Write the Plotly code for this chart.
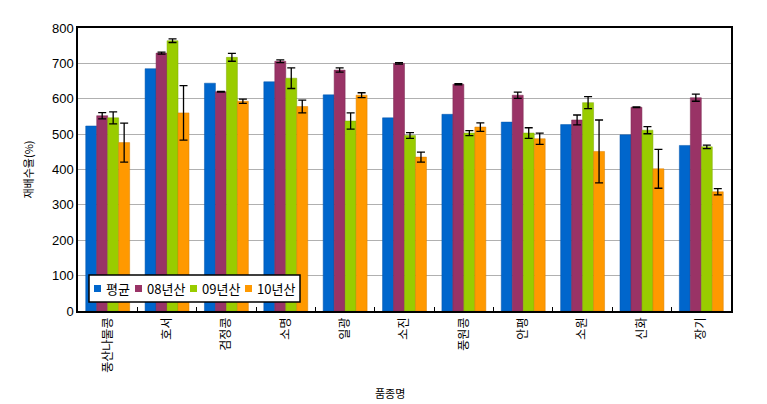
import plotly.graph_objects as go

categories = ["풍산나물콩", "호서", "검정콩", "소명", "일광", "소진", "풍원콩", "안평", "소원", "신화", "장기"]
series_names = ["평균", "08년산", "09년산", "10년산"]
avg = [523, 685, 644, 648, 611, 546, 556, 534, 527, 498, 468]
y08 = [552, 729, 620, 706, 681, 700, 641, 610, 540, 576, 603]
y09 = [546, 764, 717, 658, 537, 496, 503, 503, 589, 511, 464]
y10 = [476, 560, 593, 578, 610, 435, 520, 487, 451, 402, 337]
err08 = [9, 3, 1, 4, 6, 2, 2, 9, 14, 1, 10]
err09 = [17, 5, 11, 29, 23, 8, 7, 15, 17, 10, 5]
err10 = [55, 77, 6, 18, 7, 14, 12, 16, 89, 55, 9]

colors = ["#0066CC", "#993366", "#99CC00", "#FF9900"]
lines = ["#0055AA", "#7A2850", "#7FAA00", "#D97F00"]
values = [avg, y08, y09, y10]
errors = [None, err08, err09, err10]

# plot area in pixels
L, R, T, B = 78, 36, 28, 93
W, H = 767, 404
pw, ph = W - L - R, H - T - B

def px_x(x):
    return (x - L) / pw

def px_y(y):
    return (H - B - y) / ph

fig = go.Figure()
for name, vals, err, c, lc in zip(series_names, values, errors, colors, lines):
    kw = {}
    if err is not None:
        kw["error_y"] = dict(type="data", array=err, visible=True, color="#000000", thickness=1.3, width=4)
    fig.add_trace(go.Bar(x=categories, y=vals, name=name, showlegend=False,
                         marker=dict(color=c, line=dict(color=lc, width=0.5)), **kw))

# compact legend box (drawn as layout decoration)
shapes = [dict(type="rect", xref="paper", yref="paper",
               x0=px_x(89), x1=px_x(300), y0=px_y(302), y1=px_y(275),
               fillcolor="white", line=dict(color="#000000", width=1.5), layer="above")]
annotations = []
item_x = [94, 135, 190, 245]
for name, c, xs in zip(series_names, colors, item_x):
    shapes.append(dict(type="rect", xref="paper", yref="paper",
                       x0=px_x(xs), x1=px_x(xs + 7), y0=px_y(292), y1=px_y(285),
                       fillcolor=c, line=dict(color=c, width=0), layer="above"))
    annotations.append(dict(xref="paper", yref="paper", x=px_x(xs + 10), y=px_y(288.5),
                            text=name, showarrow=False, xanchor="left", yanchor="middle",
                            font=dict(size=13, family="Noto Sans CJK KR", color="#000000")))
annotations.append(dict(xref="paper", yref="paper", x=px_x(390), y=px_y(393), text="품종명",
                        showarrow=False, xanchor="center", yanchor="middle",
                        font=dict(size=11, family="Noto Sans CJK KR", color="#000000")))

fig.update_layout(
    width=W, height=H,
    margin=dict(l=L, r=R, t=T, b=B, autoexpand=False),
    barmode="group", bargap=0.26, bargroupgap=0,
    plot_bgcolor="white", paper_bgcolor="white",
    font=dict(family="Noto Sans CJK KR", size=12, color="#000000"),
    showlegend=False,
    shapes=shapes, annotations=annotations,
)
fig.update_xaxes(
    showline=True, linecolor="#000000", linewidth=1.5, mirror=True, automargin=False,
    ticks="inside", tickson="boundaries", ticklen=4, tickcolor="#000000",
    tickangle=-90, tickfont=dict(size=12, family="Noto Sans CJK KR"),
)
fig.update_yaxes(
    range=[0, 800], dtick=100, showline=True, linecolor="#000000", linewidth=1.5, mirror=True,
    showgrid=True, gridcolor="#B0B0B0", gridwidth=1, automargin=False,
    tickfont=dict(size=13, family="Liberation Sans"),
    title=dict(text="재배수율(%)", font=dict(size=11), standoff=16),
)
fig.write_html("out.html")
